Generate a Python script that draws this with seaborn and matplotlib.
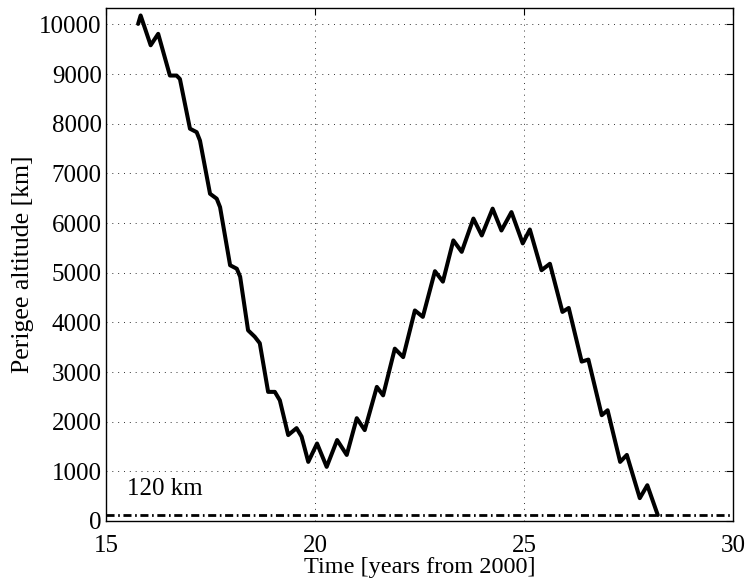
import numpy as np
import pandas as pd
import matplotlib
matplotlib.use("Agg")
import matplotlib.pyplot as plt
import seaborn as sns

# Data
time_years = [15.77, 15.83, 16.07, 16.25, 16.53, 16.69, 16.77, 17.01, 17.17, 17.25,
              17.49, 17.65, 17.73, 17.97, 18.13, 18.21, 18.40, 18.56, 18.68, 18.88,
              19.04, 19.16, 19.36, 19.56, 19.68, 19.84, 20.05, 20.28, 20.53, 20.76,
              21.00, 21.19, 21.48, 21.63, 21.91, 22.11, 22.39, 22.58, 22.87, 23.06,
              23.31, 23.51, 23.79, 23.99, 24.25, 24.46, 24.70, 24.97, 25.14, 25.42,
              25.62, 25.92, 26.07, 26.38, 26.54, 26.86, 27.00, 27.30, 27.46, 27.77,
              27.95, 28.20]
perigee_km = [10010, 10180, 9580, 9810, 8970, 8970, 8900, 7900, 7830, 7660,
              6590, 6490, 6320, 5150, 5080, 4920, 3840, 3710, 3580, 2600,
              2600, 2430, 1730, 1870, 1700, 1190, 1560, 1090, 1630, 1330,
              2070, 1830, 2700, 2530, 3470, 3300, 4240, 4110, 5030, 4820,
              5650, 5420, 6090, 5750, 6290, 5850, 6220, 5590, 5870, 5050,
              5180, 4210, 4290, 3210, 3250, 2130, 2230, 1190, 1330, 460,
              720, 120]
reentry_km = 120
x_ticks = [15, 20, 25, 30]
y_ticks = list(range(0, 10001, 1000))

sns.set_style("white")
plt.rcParams['font.family'] = ['Liberation Serif', 'DejaVu Serif']
plt.rcParams['text.color'] = 'black'
plt.rcParams['axes.labelcolor'] = 'black'

df = pd.DataFrame({"t": time_years, "h": perigee_km})

fig = plt.figure(figsize=(7.46, 5.81), dpi=100)
ax = fig.add_axes([0.142, 0.1033, 0.8406, 0.8829])

sns.lineplot(data=df, x="t", y="h", ax=ax, color="black", linewidth=2.9,
             sort=False, estimator=None)
ax.lines[-1].set_solid_joinstyle("round")
ax.lines[-1].set_solid_capstyle("round")

ax.axhline(reentry_km, color="black", linewidth=2.0,
           linestyle=(0, (2.9, 1.3, 0.6, 1.3)))
ax.text(15.5, 640, "120 km", fontsize=18, ha="left", va="center", color="black")

ax.set_xlim(15, 30)
ax.set_ylim(0, 10330)
ax.set_xticks(x_ticks)
ax.set_yticks(y_ticks)
ax.set_xticklabels([str(v) for v in x_ticks])
ax.set_yticklabels([str(v) for v in y_ticks])
ax.tick_params(direction="in", length=5, width=0.8, top=True, right=True,
               labelsize=18, colors="black")
ax.tick_params(axis="x", pad=10)
ax.tick_params(axis="y", pad=3)
ax.grid(True, color="#333333", linewidth=0.7, linestyle=(0, (1, 5)))
for s in ax.spines.values():
    s.set_visible(True)
    s.set_color("black")
    s.set_linewidth(1.0)

ax.set_xlabel("Time [years from 2000]", fontsize=17.5, labelpad=0, color="black")
ax.set_ylabel("Perigee altitude [km]", fontsize=18.5, labelpad=4, color="black")

fig.savefig("out.png", dpi=100)
